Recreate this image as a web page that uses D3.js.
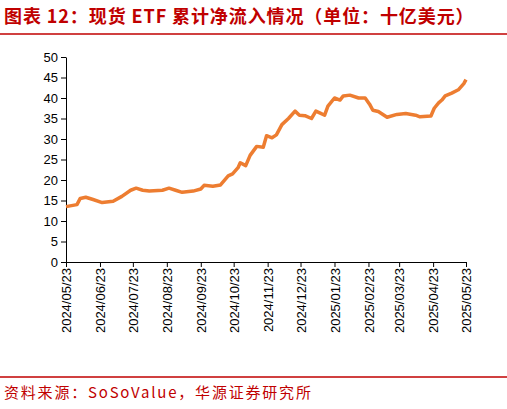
<!DOCTYPE html><html><head><meta charset="utf-8"><script src="https://cdn.jsdelivr.net/npm/d3@7"></script>
<style>body{margin:0;background:#fff}</style></head><body><svg id="c" width="507" height="409"></svg>
<script>
const dates=["2024-05-23","2024-06-02","2024-06-05","2024-06-10","2024-06-16","2024-06-25","2024-07-05","2024-07-13","2024-07-21","2024-07-26","2024-08-01","2024-08-07","2024-08-19","2024-08-25","2024-08-31","2024-09-06","2024-09-16","2024-09-23","2024-09-26","2024-10-04","2024-10-11","2024-10-18","2024-10-22","2024-10-27","2024-10-29","2024-11-03","2024-11-07","2024-11-13","2024-11-19","2024-11-22","2024-11-27","2024-12-01","2024-12-06","2024-12-12","2024-12-18","2024-12-22","2024-12-27","2025-01-02","2025-01-06","2025-01-10","2025-01-14","2025-01-17","2025-01-23","2025-01-28","2025-01-31","2025-02-06","2025-02-14","2025-02-20","2025-02-24","2025-02-27","2025-03-04","2025-03-12","2025-03-21","2025-03-29","2025-04-07","2025-04-11","2025-04-21","2025-04-24","2025-04-28","2025-05-01","2025-05-04","2025-05-10","2025-05-16","2025-05-21","2025-05-23"];
const values=[13.5,14,15.5,15.8,15.3,14.5,14.8,16,17.5,18,17.5,17.3,17.5,18,17.5,17,17.3,17.8,18.7,18.5,18.8,21,21.5,23,24.2,23.5,26,28.2,28,30.8,30.3,31,33.5,35,36.8,35.8,35.7,35,36.8,36.3,35.8,38,40,39.5,40.5,40.7,40,40,38.5,37,36.7,35.3,36,36.2,35.8,35.4,35.6,37.5,38.8,39.5,40.5,41.2,42,43.5,44.5];
const tickLabels=["2024/05/23","2024/06/23","2024/07/23","2024/08/23","2024/09/23","2024/10/23","2024/11/23","2024/12/23","2025/01/23","2025/02/23","2025/03/23","2025/04/23","2025/05/23"];
const yTicks=[0,5,10,15,20,25,30,35,40,45,50];
const svg=d3.select("#c");
const red="#c00000";
svg.append("text").attr("x",4).attr("y",23).attr("fill",red).attr("font-size",18).attr("font-weight","bold").attr("letter-spacing",0.9)
 .attr("font-family","Noto Sans CJK SC").text("图表 12：现货 ETF 累计净流入情况（单位：十亿美元）");
svg.append("line").attr("x1",0).attr("x2",507).attr("y1",34).attr("y2",34).attr("stroke",red).attr("stroke-width",1.5);
svg.append("line").attr("x1",0).attr("x2",507).attr("y1",377).attr("y2",377).attr("stroke",red).attr("stroke-width",1.5);
svg.append("text").attr("x",4).attr("y",398).attr("fill",red).attr("font-size",15).attr("letter-spacing",1.8)
 .attr("font-family","Noto Sans CJK SC").text("资料来源：SoSoValue，华源证券研究所");
const p=d3.timeParse("%Y-%m-%d"), pt=d3.timeParse("%Y/%m/%d");
const x=d3.scaleTime().domain([p(dates[0]),p(dates[dates.length-1])]).range([66,466]);
const y=d3.scaleLinear().domain([0,50]).range([262,57]);
const ya=svg.append("g").attr("transform","translate(66,0)").call(d3.axisLeft(y).tickValues(yTicks).tickSize(5).tickSizeOuter(0));
const xa=svg.append("g").attr("transform","translate(0,262)").call(d3.axisBottom(x).tickValues(tickLabels.map(pt)).tickSize(5).tickSizeOuter(0).tickFormat(d3.timeFormat("%Y/%m/%d")));
[ya,xa].forEach(a=>{a.selectAll("path,line").attr("stroke","#000");a.selectAll("text").attr("fill","#000").attr("font-size",13).attr("font-family","Liberation Sans, Arial");});
xa.selectAll("text").attr("transform","rotate(-90)").attr("text-anchor","end").attr("dx","-6").attr("dy","0.35em").attr("x",0).attr("y",0);
svg.append("path").datum(dates.map((d,i)=>[p(d),values[i]])).attr("fill","none").attr("stroke","#ed7d31").attr("stroke-width",3.5)
 .attr("stroke-linejoin","round").attr("d",d3.line().x(d=>x(d[0])).y(d=>y(d[1])));
</script></body></html>
